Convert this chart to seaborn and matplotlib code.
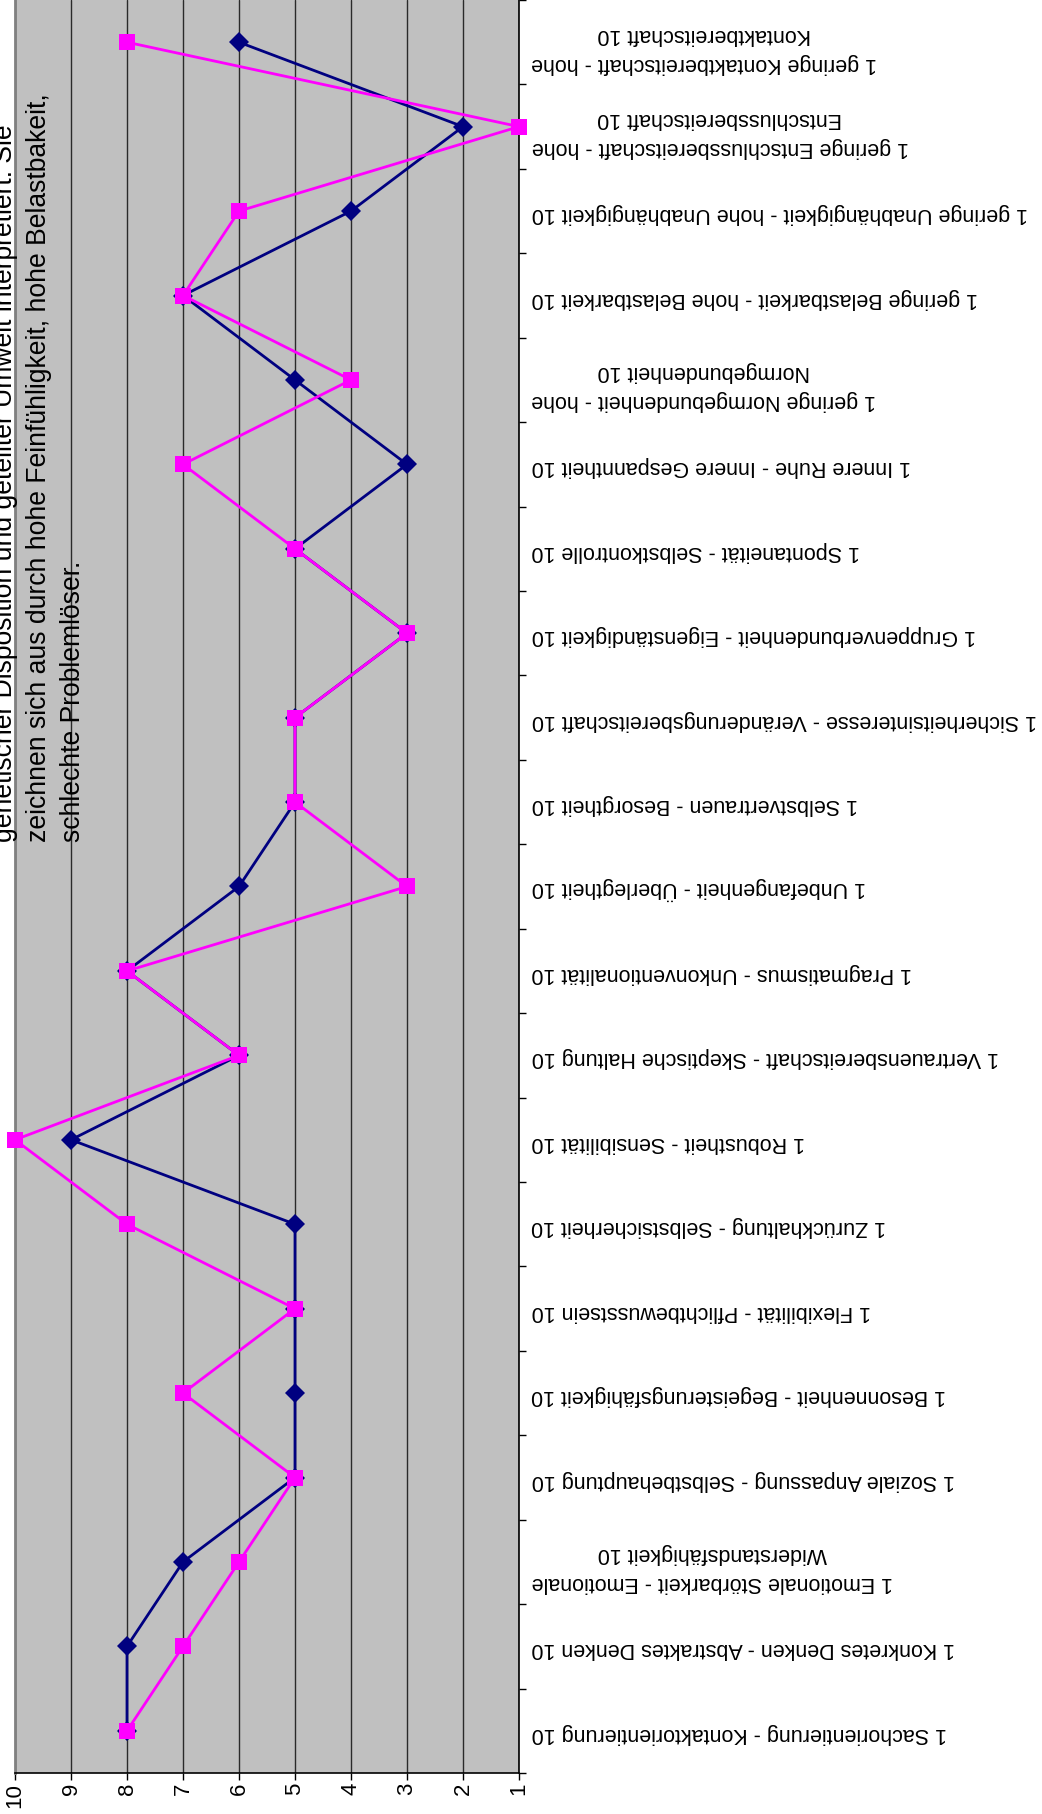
import numpy as np
import pandas as pd
import matplotlib
matplotlib.use("Agg")
import matplotlib.pyplot as plt
import seaborn as sns

# ---------------- data ----------------
categories = [
    "1 Sachorientierung - Kontaktorientierung 10",
    "1 Konkretes Denken - Abstraktes Denken 10",
    "1 Emotionale Störbarkeit - Emotionale\nWiderstandsfähigkeit 10",
    "1 Soziale Anpassung - Selbstbehauptung 10",
    "1 Besonnenheit - Begeisterungsfähigkeit 10",
    "1 Flexibilität - Pflichtbewusstsein 10",
    "1 Zurückhaltung - Selbstsicherheit 10",
    "1 Robustheit - Sensibilität 10",
    "1 Vertrauensbereitschaft - Skeptische Haltung 10",
    "1 Pragmatismus - Unkonventionalität 10",
    "1 Unbefangenheit - Überlegtheit 10",
    "1 Selbstvertrauen - Besorgtheit 10",
    "1 Sicherheitsinteresse - Veränderungsbereitschaft 10",
    "1 Gruppenverbundenheit - Eigenständigkeit 10",
    "1 Spontaneität - Selbstkontrolle 10",
    "1 Innere Ruhe - Innere Gespanntheit 10",
    "1 geringe Normgebundenheit - hohe\nNormgebundenheit 10",
    "1 geringe Belastbarkeit - hohe Belastbarkeit 10",
    "1 geringe Unabhängigkeit - hohe Unabhängigkeit 10",
    "1 geringe Entschlussbereitschaft - hohe\nEntschlussbereitschaft 10",
    "1 geringe Kontaktbereitschaft - hohe\nKontaktbereitschaft 10",
]
series_navy = [8, 8, 7, 5, 5, 5, 5, 9, 6, 8, 6, 5, 5, 3, 5, 3, 5, 7, 4, 2, 6]
series_pink = [8, 7, 6, 5, 7, 5, 8, 10, 6, 8, 3, 5, 5, 3, 5, 7, 4, 7, 6, 1, 8]
value_ticks = [10, 9, 8, 7, 6, 5, 4, 3, 2, 1]
annotation_lines = [
    "genetischer Disposition und geteilter Umwelt interpretiert. Sie",
    "zeichnen sich aus durch hohe Feinfühligkeit, hohe Belastbakeit,",
    "schlechte Problemlöser.",
]

# ---------------- style ----------------
sns.set_theme(style="white")
plt.rcParams["font.family"] = ["Liberation Sans", "DejaVu Sans"]

W, H = 1042, 1814
fig = plt.figure(figsize=(W / 100, H / 100), dpi=100)
fig.patch.set_facecolor("white")

ax_left, ax_right, ax_bottom, ax_top = 15, 519, 1773, 0
ax = fig.add_axes([ax_left / W, (H - ax_bottom) / H,
                   (ax_right - ax_left) / W, (ax_bottom - ax_top) / H])
ax.set_facecolor("#C0C0C0")

n = len(categories)
pos = list(range(n))
df_navy = pd.DataFrame({"pos": pos, "value": series_navy})
df_pink = pd.DataFrame({"pos": pos, "value": series_pink})

sns.lineplot(data=df_navy, x="value", y="pos", orient="y", sort=False,
             color="#000080", linewidth=2, marker="D", markersize=10.5,
             markeredgewidth=0, ax=ax, clip_on=False, zorder=3)
sns.lineplot(data=df_pink, x="value", y="pos", orient="y", sort=False,
             color="#FF00FF", linewidth=2, marker="s", markersize=11.5,
             markeredgewidth=0, ax=ax, clip_on=False, zorder=4)

ax.set_xlim(10, 1)
ax.set_ylim(-0.5, n - 0.5)
ax.set_xlabel("")
ax.set_ylabel("")

# value axis
ax.set_xticks(value_ticks)
ax.set_xticklabels([str(v) for v in value_ticks], rotation=90, fontsize=16)
ax.tick_params(axis="x", which="major", bottom=True, top=False, length=5,
               width=1, color="black", direction="out", pad=2, labelcolor="black")
ax.grid(axis="x", color="#2a2a2a", linewidth=1)
ax.grid(axis="y", visible=False)
ax.set_axisbelow(True)

# category axis (right side)
ax.yaxis.tick_right()
ax.set_yticks(np.arange(n + 1) - 0.5)
ax.set_yticklabels([])
ax.set_yticks(pos, minor=True)
ax.set_yticklabels(categories, minor=True, rotation=180, fontsize=15.5,
                   multialignment="center", linespacing=1.5, color="black")
ax.tick_params(axis="y", which="major", right=True, left=False, length=5,
               width=1, color="black", direction="out")
ax.tick_params(axis="y", which="minor", right=False, left=False, length=0,
               pad=9, labelright=True, labelleft=False)

ax.spines["top"].set_visible(False)
ax.spines["left"].set_color("#808080")
ax.spines["left"].set_linewidth(2)
ax.spines["bottom"].set_color("black")
ax.spines["bottom"].set_linewidth(1.2)
ax.spines["right"].set_color("black")
ax.spines["right"].set_linewidth(1.2)

# rotated annotation text
fig.text(86 / W, (H - 842) / H, "\n".join(annotation_lines), rotation=90,
         rotation_mode="anchor", ha="left", va="bottom", fontsize=19.1,
         linespacing=1.4, color="black", zorder=10)

fig.savefig("out.png", dpi=100)
